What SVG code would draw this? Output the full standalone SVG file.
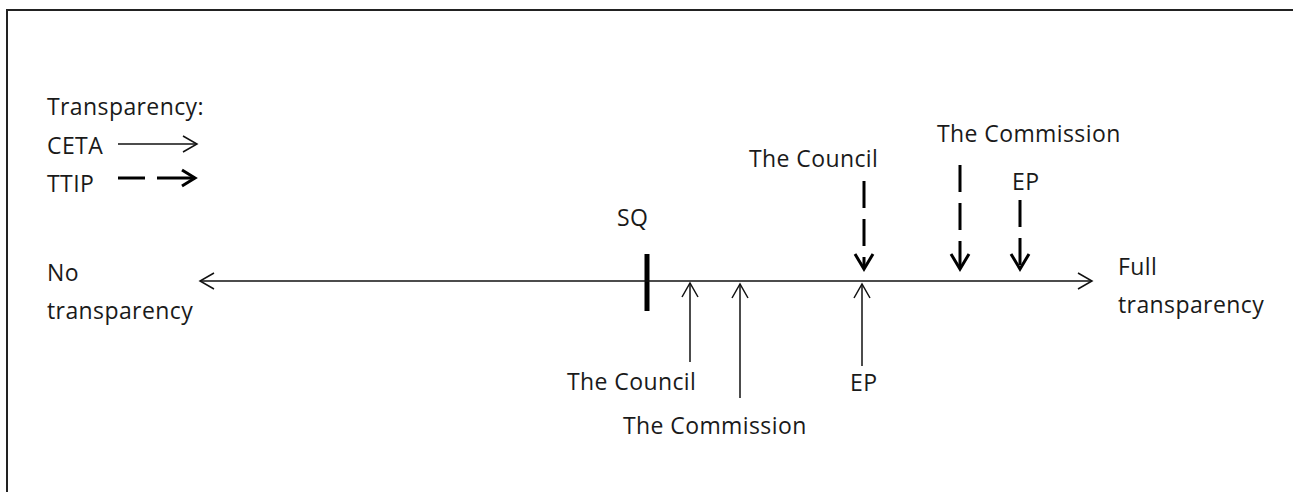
<svg xmlns="http://www.w3.org/2000/svg" width="1293" height="492" viewBox="0 0 1293 492">
<style>
text{font-family:"Open Sans","Liberation Sans",sans-serif;font-size:23px;letter-spacing:0.4px;fill:#1a1a1a}
.thin{stroke:#111;stroke-width:1.5;fill:none}
.thick{stroke:#000;stroke-width:3;fill:none}
.dash{stroke:#000;stroke-width:3;fill:none;stroke-dasharray:27 11}
</style>
<rect x="7" y="10" width="1300" height="500" fill="#fff" stroke="#222" stroke-width="2"/>
<g id="legend">
<text x="47" y="115">Transparency:</text>
<text x="47" y="154">CETA</text>
<text x="47" y="192">TTIP</text>
</g>
<g id="axis-labels">
<text x="47" y="281">No</text>
<text x="47" y="319">transparency</text>
<text x="1118" y="275">Full</text>
<text x="1118" y="313">transparency</text>
</g>
<g id="sq">
<text x="617" y="226">SQ</text>
<rect x="644.5" y="254" width="5" height="57" fill="#000"/>
</g>
<g id="ceta-council"><text x="567" y="390">The Council</text></g>
<g id="ceta-commission"><text x="623" y="434">The Commission</text></g>
<g id="ceta-ep"><text x="850" y="391">EP</text></g>
<g id="ttip-council"><text x="749" y="167">The Council</text></g>
<g id="ttip-commission"><text x="937" y="142">The Commission</text></g>
<g id="ttip-ep"><text x="1012" y="190">EP</text></g>
<g id="connectors">
<line class="thin" x1="118" y1="144" x2="197" y2="144"/>
<polyline class="thin" points="183,136 197,144 183,152"/>
<line class="thick" x1="118" y1="178" x2="145" y2="178"/>
<line class="thick" x1="157" y1="178" x2="195" y2="178"/>
<polyline class="thick" points="182,170 195,178 182,186"/>
<line class="thin" x1="200" y1="281" x2="1092" y2="281"/>
<polyline class="thin" points="214,273 200,281 214,289"/>
<polyline class="thin" points="1078,273 1092,281 1078,289"/>
<line class="thin" x1="690" y1="362" x2="690" y2="283"/>
<polyline class="thin" points="682,297 690,283 698,297"/>
<line class="thin" x1="740" y1="398" x2="740" y2="284"/>
<polyline class="thin" points="732,298 740,284 748,298"/>
<line class="thin" x1="862" y1="366" x2="862" y2="284"/>
<polyline class="thin" points="854,298 862,284 870,298"/>
<line class="dash" x1="864" y1="181" x2="864" y2="268"/>
<polyline class="thick" points="855,254 864,269 873,254"/>
<line class="dash" x1="960" y1="165" x2="960" y2="268"/>
<polyline class="thick" points="951,254 960,269 969,254"/>
<line class="dash" x1="1020" y1="200" x2="1020" y2="268"/>
<polyline class="thick" points="1011,254 1020,269 1029,254"/>
</g>
</svg>
